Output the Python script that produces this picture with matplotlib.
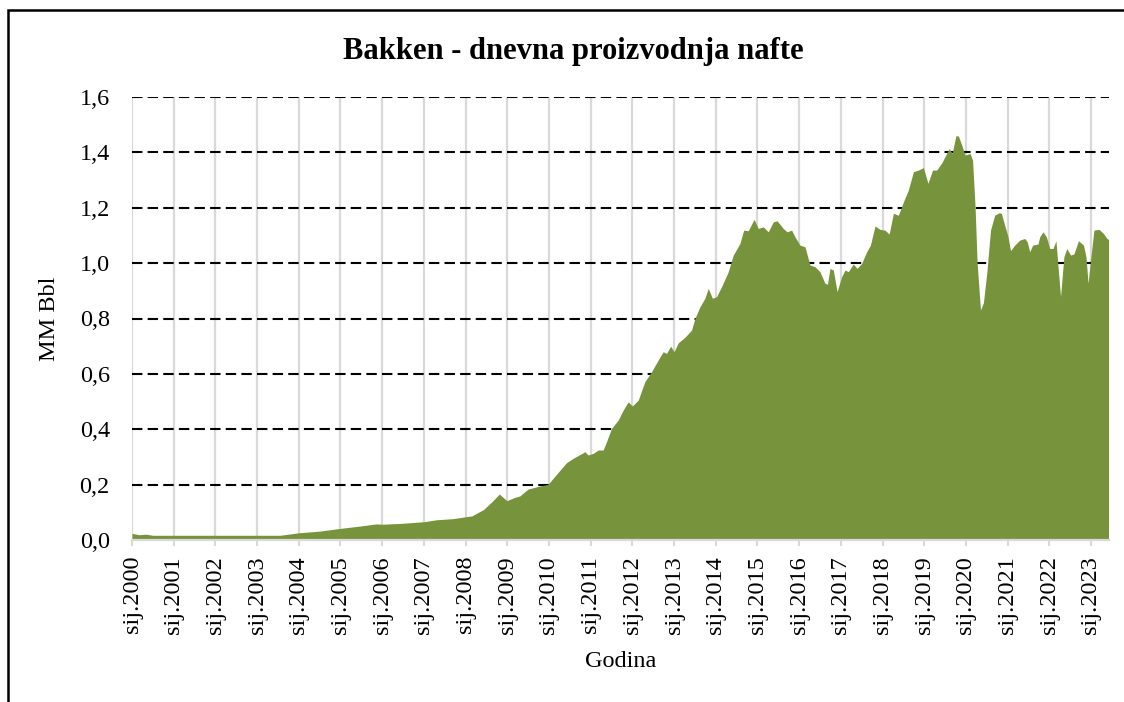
import numpy as np
import matplotlib.pyplot as plt
from matplotlib.ticker import FuncFormatter
from matplotlib.patches import Rectangle

plt.rcParams['font.family'] = ['Liberation Serif', 'DejaVu Serif']

# Bakken - dnevna proizvodnja nafte (MM Bbl), ocitano sa slike
godine = [
    2000.00, 2000.17, 2000.33, 2000.50, 2003.55, 2004.00, 2004.50, 2005.00,
    2005.45, 2005.85, 2006.00, 2006.45, 2007.00, 2007.30, 2007.70, 2008.00,
    2008.15, 2008.43, 2008.63, 2008.81, 2008.99, 2009.18, 2009.30, 2009.50,
    2009.78, 2009.98, 2010.10, 2010.42, 2010.58, 2010.82, 2010.86, 2010.94,
    2011.06, 2011.18, 2011.30, 2011.38, 2011.50, 2011.66, 2011.78, 2011.90,
    2012.00, 2012.14, 2012.30, 2012.46, 2012.62, 2012.74, 2012.82, 2012.92,
    2013.00, 2013.10, 2013.26, 2013.42, 2013.50, 2013.62, 2013.74, 2013.82,
    2013.92, 2014.02, 2014.14, 2014.30, 2014.42, 2014.58, 2014.67, 2014.78,
    2014.92, 2015.02, 2015.14, 2015.26, 2015.38, 2015.47, 2015.62, 2015.71,
    2015.82, 2015.90, 2016.02, 2016.14, 2016.26, 2016.38, 2016.50, 2016.62,
    2016.68, 2016.74, 2016.82, 2016.91, 2017.02, 2017.10, 2017.18, 2017.30,
    2017.39, 2017.50, 2017.62, 2017.71, 2017.82, 2017.94, 2018.06, 2018.16,
    2018.26, 2018.38, 2018.50, 2018.62, 2018.74, 2018.86, 2018.98, 2019.09,
    2019.20, 2019.30, 2019.42, 2019.60, 2019.67, 2019.76, 2019.82, 2019.90,
    2019.98, 2020.10, 2020.16, 2020.22, 2020.27, 2020.35, 2020.42, 2020.50,
    2020.59, 2020.69, 2020.80, 2020.85, 2020.93, 2021.01, 2021.07, 2021.17,
    2021.29, 2021.41, 2021.47, 2021.53, 2021.60, 2021.73, 2021.77, 2021.85,
    2021.93, 2022.01, 2022.09, 2022.16, 2022.21, 2022.27, 2022.35, 2022.42,
    2022.51, 2022.59, 2022.70, 2022.82, 2022.88, 2022.93, 2022.99, 2023.07,
    2023.19, 2023.30, 2023.38, 2023.42,
]
proizvodnja = [
    0.024, 0.019, 0.021, 0.017, 0.017, 0.026, 0.032, 0.042,
    0.050, 0.058, 0.057, 0.060, 0.066, 0.073, 0.077, 0.084,
    0.087, 0.110, 0.138, 0.166, 0.142, 0.154, 0.159, 0.184,
    0.195, 0.201, 0.223, 0.279, 0.295, 0.315, 0.319, 0.307,
    0.313, 0.325, 0.325, 0.355, 0.403, 0.433, 0.469, 0.499,
    0.484, 0.505, 0.572, 0.608, 0.650, 0.680, 0.674, 0.700,
    0.680, 0.712, 0.732, 0.758, 0.800, 0.842, 0.873, 0.909,
    0.873, 0.879, 0.915, 0.969, 1.029, 1.071, 1.119, 1.117,
    1.158, 1.125, 1.131, 1.113, 1.149, 1.153, 1.125, 1.113,
    1.119, 1.095, 1.065, 1.059, 0.993, 0.987, 0.969, 0.927,
    0.924, 0.981, 0.975, 0.897, 0.951, 0.975, 0.969, 0.997,
    0.981, 0.999, 1.041, 1.065, 1.134, 1.122, 1.119, 1.105,
    1.180, 1.173, 1.221, 1.264, 1.330, 1.336, 1.345, 1.288,
    1.336, 1.336, 1.362, 1.414, 1.396, 1.460, 1.459, 1.426,
    1.390, 1.396, 1.372, 1.203, 0.999, 0.830, 0.857, 0.963,
    1.119, 1.173, 1.182, 1.180, 1.137, 1.095, 1.045, 1.065,
    1.083, 1.089, 1.077, 1.041, 1.065, 1.069, 1.095, 1.113,
    1.095, 1.053, 1.053, 1.081, 0.987, 0.879, 1.023, 1.053,
    1.029, 1.033, 1.081, 1.065, 1.023, 0.927, 1.011, 1.119,
    1.122, 1.107, 1.089, 1.086,
]

godine_oznake = list(range(2000, 2024))
oznake_x = [f"sij.{g}" for g in godine_oznake]
y_razine = [0.2, 0.4, 0.6, 0.8, 1.0, 1.2, 1.4, 1.6]

W, H = 1124, 702
fig = plt.figure(figsize=(W / 100, H / 100), dpi=100)
ax = fig.add_axes([132 / W, 1 - 540 / H, (1108.5 - 132) / W, (540 - 97) / H])

ax.fill_between(godine, proizvodnja, 0, color='#77933c', lw=0, zorder=3)

# mreza
for v in y_razine:
    ax.axhline(v, color='black', lw=1.5, ls=(0, (5, 2.5)), zorder=1)
ax.set_xticks(godine_oznake)
ax.set_xticklabels(oznake_x, rotation=90)
ax.grid(axis='x', color='#d9d9d9', lw=1.6, zorder=0)
ax.set_axisbelow(True)

ax.set_xlim(2000, 2023.42)
ax.set_ylim(0, 1.6)
ax.set_yticks([0.0] + y_razine)
ax.yaxis.set_major_formatter(FuncFormatter(lambda v, p: f"{v:.1f}".replace('.', ',')))

for s in ['left', 'right', 'top']:
    ax.spines[s].set_visible(False)
ax.spines['bottom'].set_color('#d9d9d9')
ax.spines['bottom'].set_linewidth(1.6)
ax.spines['bottom'].set_zorder(4)

ax.tick_params(axis='y', length=0, pad=16, labelsize=17.5)
ax.tick_params(axis='x', length=4.5, width=1.5, color='#d9d9d9', pad=7, labelsize=17.5)

ax.set_ylabel('MM Bbl', fontsize=17.5, labelpad=14)
ax.set_xlabel('Godina', fontsize=17.5, labelpad=12)

fig.text(573 / W, 1 - 51 / H, 'Bakken - dnevna proizvodnja nafte',
         ha='center', va='center', fontsize=22, fontweight='bold')

# okvir grafikona
fig.add_artist(Rectangle((8 / W, -0.1), (1130 - 8) / W, 1.1 - 10 / H,
                         transform=fig.transFigure, fill=False,
                         edgecolor='black', lw=1.8, clip_on=False))

fig.savefig('out.png', dpi=100)
